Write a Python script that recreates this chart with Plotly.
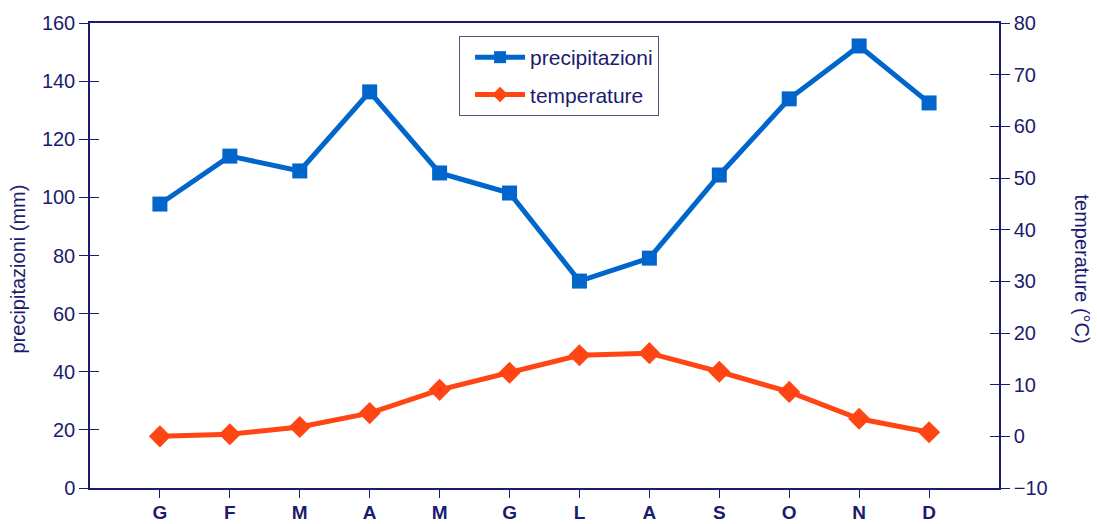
import plotly.graph_objects as go

mesi = ["G", "F", "M", "A", "M", "G", "L", "A", "S", "O", "N", "D"]
precipitazioni = [97.7, 114.2, 109.1, 136.3, 108.4, 101.5, 71.2, 79.1, 107.7, 133.9, 152.1, 132.5]
temperature = [0.0, 0.4, 1.8, 4.5, 9.0, 12.3, 15.7, 16.1, 12.5, 8.6, 3.4, 0.8]

NAVY = "#1b1b6f"
FONT = "Liberation Sans, Arial, sans-serif"
FS = 20
x = list(range(len(mesi)))

fig = go.Figure()
fig.add_trace(go.Scatter(
    x=x, y=precipitazioni, name="precipitazioni", mode="lines+markers",
    line=dict(color="#0066CC", width=5),
    marker=dict(symbol="square", size=15, color="#0066CC"),
    yaxis="y", legendgroup="p",
))
fig.add_trace(go.Scatter(
    x=x, y=temperature, name="temperature", mode="lines+markers",
    line=dict(color="#FF4513", width=5),
    marker=dict(symbol="diamond", size=17, color="#FF4513"),
    yaxis="y2", legendgroup="t",
))

fig.update_layout(
    width=1097, height=524,
    margin=dict(l=90, r=98, t=23, b=36),
    paper_bgcolor="white", plot_bgcolor="white",
    font=dict(family=FONT, color=NAVY, size=FS),
    showlegend=True,
    legend=dict(
        x=0.406, y=0.972, xanchor="left", yanchor="top",
        bordercolor="#555577", borderwidth=1, bgcolor="white",
        font=dict(family=FONT, size=21, color=NAVY),
        tracegroupgap=7, itemwidth=50, itemsizing="constant",
        indentation=10,
    ),
    xaxis=dict(
        range=[-1, 12], tickmode="array", tickvals=x, ticktext=mesi,
        showline=True, linecolor=NAVY, linewidth=1.5, mirror=True,
        ticks="outside", ticklen=8, tickcolor=NAVY,
        showgrid=False, zeroline=False, automargin=False,
        ticklabelstandoff=-2,
        tickfont=dict(family=FONT, size=19, color=NAVY, weight="bold"),
    ),
    yaxis=dict(
        range=[0, 160], dtick=20, automargin=False,
        showline=True, linecolor=NAVY, linewidth=1.5,
        ticks="outside", ticklen=9, tickcolor=NAVY,
        showgrid=False, zeroline=False,
    ),
    yaxis2=dict(
        range=[-10, 80], dtick=10, overlaying="y", side="right", automargin=False,
        showline=True, linecolor=NAVY, linewidth=1.5,
        ticks="outside", ticklen=9, tickcolor=NAVY,
        showgrid=False, zeroline=False,
    ),
    yaxis3=dict(
        range=[0, 160], dtick=20, overlaying="y", side="left",
        ticks="inside", ticklen=9, tickcolor=NAVY, showticklabels=False,
        showgrid=False, zeroline=False, showline=False,
    ),
    yaxis4=dict(
        range=[-10, 80], dtick=10, overlaying="y", side="right",
        ticks="inside", ticklen=9, tickcolor=NAVY, showticklabels=False,
        showgrid=False, zeroline=False, showline=False,
    ),
)

# invisible helpers so the inner tick axes are drawn
fig.add_trace(go.Scatter(x=[None], y=[None], yaxis="y3", showlegend=False, hoverinfo="skip"))
fig.add_trace(go.Scatter(x=[None], y=[None], yaxis="y4", showlegend=False, hoverinfo="skip"))

# axis titles
fig.add_annotation(
    text="precipitazioni (mm)", textangle=-90, showarrow=False,
    xref="paper", yref="paper", x=0.0, xshift=-86, y=0.5, yshift=-14,
    font=dict(family=FONT, size=FS, color=NAVY),
)
fig.add_annotation(
    text="temperature (°C)", textangle=90, showarrow=False,
    xref="paper", yref="paper", x=1.0, xshift=96, y=0.5, yshift=-13,
    font=dict(family=FONT, size=FS, color=NAVY),
)

fig.write_html("out.html")
